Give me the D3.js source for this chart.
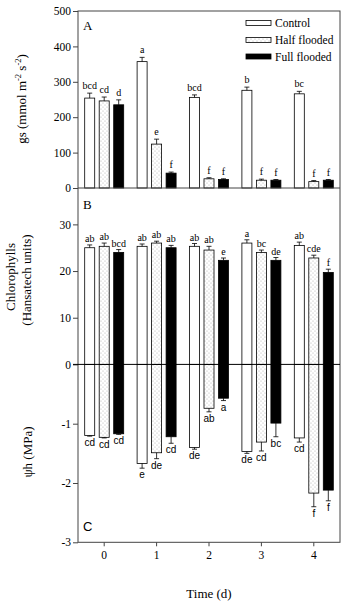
<!DOCTYPE html>
<html lang="en">
<head>
    <meta charset="UTF-8">
    <script src="https://d3js.org/d3.v7.min.js"></script>
    <style>
        body { margin: 0; background: #fff; }
        text { font-family: "Liberation Serif", "Times New Roman", serif; }
        .sans { font-family: "Liberation Sans", Arial, sans-serif; }
    </style>
</head>
<body>
    <svg id="chart" width="346" height="605"></svg>
    <script>
        // data
        const days = ["0", "1", "2", "3", "4"];
        const series = ["Control", "Half flooded", "Full flooded"];

        // A: stomatal conductance
        const gsMean = [[254, 357, 256, 276, 266], [246, 124, 26, 22, 18], [235, 42, 24, 22, 22]];
        const gsErr = [[14, 12, 7, 9, 7], [11, 14, 3, 3, 3], [14, 3, 2, 2, 2]];
        const gsLetters = [["bcd", "a", "bcd", "b", "bc"], ["cd", "e", "f", "f", "f"], ["d", "f", "f", "f", "f"]];

        // B: chlorophylls
        const chlMean = [[25.0, 25.3, 25.3, 26.0, 25.5], [25.3, 26.0, 24.5, 24.0, 22.8], [24.0, 25.0, 22.3, 22.3, 19.7]];
        const chlErr = [[0.6, 0.5, 0.6, 0.7, 0.7], [0.7, 0.4, 0.8, 0.5, 0.6], [0.6, 0.5, 0.5, 0.6, 0.7]];
        const chlLetters = [["ab", "ab", "ab", "a", "ab"], ["ab", "ab", "ab", "bc", "cde"], ["bcd", "ab", "e", "de", "f"]];

        // C: water potential
        const psiMean = [[-1.20, -1.67, -1.40, -1.47, -1.24], [-1.23, -1.49, -0.74, -1.31, -2.17], [-1.17, -1.22, -0.57, -0.99, -2.12]];
        const psiErr = [[0.01, 0.08, 0.03, 0.03, 0.07], [0.01, 0.10, 0.06, 0.15, 0.23], [0.01, 0.11, 0.04, 0.23, 0.18]];
        const psiLetters = [["cd", "e", "de", "de", "cd"], ["cd", "de", "ab", "cd", "f"], ["cd", "cd", "a", "bc", "f"]];

        const gsTicks = [0, 100, 200, 300, 400, 500];
        const chlTicks = [0, 10, 20, 30];
        const psiTicks = [-1, -2, -3];

        const left = 78, right = 340;
        const topA = 11, zeroA = 188, zeroB = 364.4, bottom = 542.3;

        const svg = d3.select("#chart");

        const defs = svg.append("defs");
        const pat = defs.append("pattern")
            .attr("id", "dots")
            .attr("patternUnits", "userSpaceOnUse")
            .attr("width", 4).attr("height", 4);
        pat.append("rect").attr("width", 4).attr("height", 4).attr("fill", "#fff");
        pat.append("circle").attr("cx", 1).attr("cy", 1).attr("r", 0.5).attr("fill", "#a0a0a0");
        pat.append("circle").attr("cx", 3).attr("cy", 3).attr("r", 0.5).attr("fill", "#a0a0a0");

        const fills = ["#fff", "url(#dots)", "#000"];

        const x = d3.scaleBand().domain(days).range([left, right]).padding(0);
        const xs = d3.scaleBand().domain(series).range([-19.5, 19.5]).paddingInner(0.31);

        const yA = d3.scaleLinear().domain([0, 500]).range([zeroA, topA]);
        const yB = d3.scaleLinear().domain([0, 10]).range([zeroB, zeroB - 46.67]);
        const yC = d3.scaleLinear().domain([-3, 0]).range([bottom, zeroB]);

        function flat(mean, err, letters) {
            const out = [];
            series.forEach((s, i) => days.forEach((d, j) => {
                out.push({ s, i, d, v: mean[i][j], e: err[i][j], l: letters[i][j] });
            }));
            return out;
        }

        function bars(data, y, up, letterClass, letterGap) {
            const g = svg.append("g");
            g.selectAll("rect").data(data).enter().append("rect")
                .attr("x", d => x(d.d) + x.bandwidth() / 2 + xs(d.s))
                .attr("width", xs.bandwidth())
                .attr("y", d => Math.min(y(d.v), y(0)))
                .attr("height", d => Math.abs(y(d.v) - y(0)))
                .attr("fill", d => fills[d.i])
                .attr("stroke", "#000")
                .attr("stroke-width", 0.8);
            const cx = d => x(d.d) + x.bandwidth() / 2 + xs(d.s) + xs.bandwidth() / 2;
            const tip = d => y(d.v + (up ? d.e : -d.e));
            g.selectAll(".eb").data(data).enter().append("line")
                .attr("x1", cx).attr("x2", cx)
                .attr("y1", d => y(d.v)).attr("y2", tip)
                .attr("stroke", "#000").attr("stroke-width", 0.8);
            g.selectAll(".cap").data(data).enter().append("line")
                .attr("x1", d => cx(d) - 2.5).attr("x2", d => cx(d) + 2.5)
                .attr("y1", tip).attr("y2", tip)
                .attr("stroke", "#000").attr("stroke-width", 0.8);
            g.selectAll("text").data(data).enter().append("text")
                .attr("class", letterClass)
                .attr("x", cx)
                .attr("y", d => tip(d) + letterGap)
                .attr("text-anchor", "middle")
                .style("font-size", "10px")
                .text(d => d.l);
        }

        bars(flat(gsMean, gsErr, gsLetters), yA, true, "", -4);
        bars(flat(chlMean, chlErr, chlLetters), yB, true, "", -3);
        bars(flat(psiMean, psiErr, psiLetters), yC, false, "sans", 10);

        // axes
        function styleAxis(g) {
            g.select(".domain").remove();
            g.selectAll(".tick line").attr("stroke", "#444");
            g.selectAll(".tick text").style("font-size", "11.5px").attr("fill", "#000");
        }
        svg.append("g").attr("transform", `translate(${left},0)`)
            .call(d3.axisLeft(yA).tickValues(gsTicks).tickSize(5).tickPadding(2))
            .call(styleAxis);
        svg.append("g").attr("transform", `translate(${left},0)`)
            .call(d3.axisLeft(yB).tickValues(chlTicks).tickSize(5).tickPadding(2))
            .call(styleAxis);
        svg.append("g").attr("transform", `translate(${left},0)`)
            .call(d3.axisLeft(yC).tickValues(psiTicks).tickSize(5).tickPadding(2).tickFormat(d => String(d)))
            .call(styleAxis);
        svg.append("g").attr("transform", `translate(0,${bottom})`)
            .call(d3.axisBottom(x).tickSize(4).tickPadding(5))
            .call(styleAxis);

        // frame, panel divider and zero line
        svg.append("rect")
            .attr("x", left).attr("y", topA)
            .attr("width", right - left).attr("height", bottom - topA)
            .attr("fill", "none").attr("stroke", "#444").attr("stroke-width", 1);
        svg.append("line")
            .attr("x1", left).attr("x2", right).attr("y1", zeroA).attr("y2", zeroA)
            .attr("stroke", "#444");
        svg.append("line")
            .attr("x1", left - 5).attr("x2", right).attr("y1", yB(0)).attr("y2", yB(0))
            .attr("stroke", "#000");

        // panel letters
        svg.append("text").attr("x", 83).attr("y", 30).style("font-size", "13px").text("A");
        svg.append("text").attr("x", 83).attr("y", 209).style("font-size", "13px").text("B");
        svg.append("text").attr("class", "sans").attr("x", 83).attr("y", 531).style("font-size", "13px").text("C");

        // y labels
        const gsLab = svg.append("text")
            .attr("transform", "translate(26,99) rotate(-90)")
            .attr("text-anchor", "middle")
            .style("font-size", "13px");
        gsLab.append("tspan").text("gs (mmol m");
        gsLab.append("tspan").attr("dy", -5).style("font-size", "8.5px").text("-2");
        gsLab.append("tspan").attr("dy", 5).text(" s");
        gsLab.append("tspan").attr("dy", -5).style("font-size", "8.5px").text("-2");
        gsLab.append("tspan").attr("dy", 5).text(")");

        svg.append("text")
            .attr("transform", "translate(15,277) rotate(-90)")
            .attr("text-anchor", "middle")
            .style("font-size", "13px")
            .text("Chlorophylls");
        svg.append("text")
            .attr("transform", "translate(31,280) rotate(-90)")
            .attr("text-anchor", "middle")
            .style("font-size", "13px")
            .text("(Hansatech units)");
        svg.append("text")
            .attr("transform", "translate(32,452) rotate(-90)")
            .attr("text-anchor", "middle")
            .style("font-size", "13px")
            .text("ψh (MPa)");

        svg.append("text")
            .attr("x", (left + right) / 2).attr("y", 598)
            .attr("text-anchor", "middle")
            .style("font-size", "13px")
            .text("Time (d)");

        // legend
        const legY = [20.5, 37.5, 54];
        const leg = svg.append("g");
        series.forEach((s, i) => {
            leg.append("rect")
                .attr("x", 246).attr("y", legY[i])
                .attr("width", 25).attr("height", 5)
                .attr("fill", fills[i]).attr("stroke", "#000").attr("stroke-width", 0.8);
            leg.append("text")
                .attr("x", 275).attr("y", legY[i] + 6.5)
                .style("font-size", "11.5px")
                .text(s);
        });
    </script>
</body>
</html>
